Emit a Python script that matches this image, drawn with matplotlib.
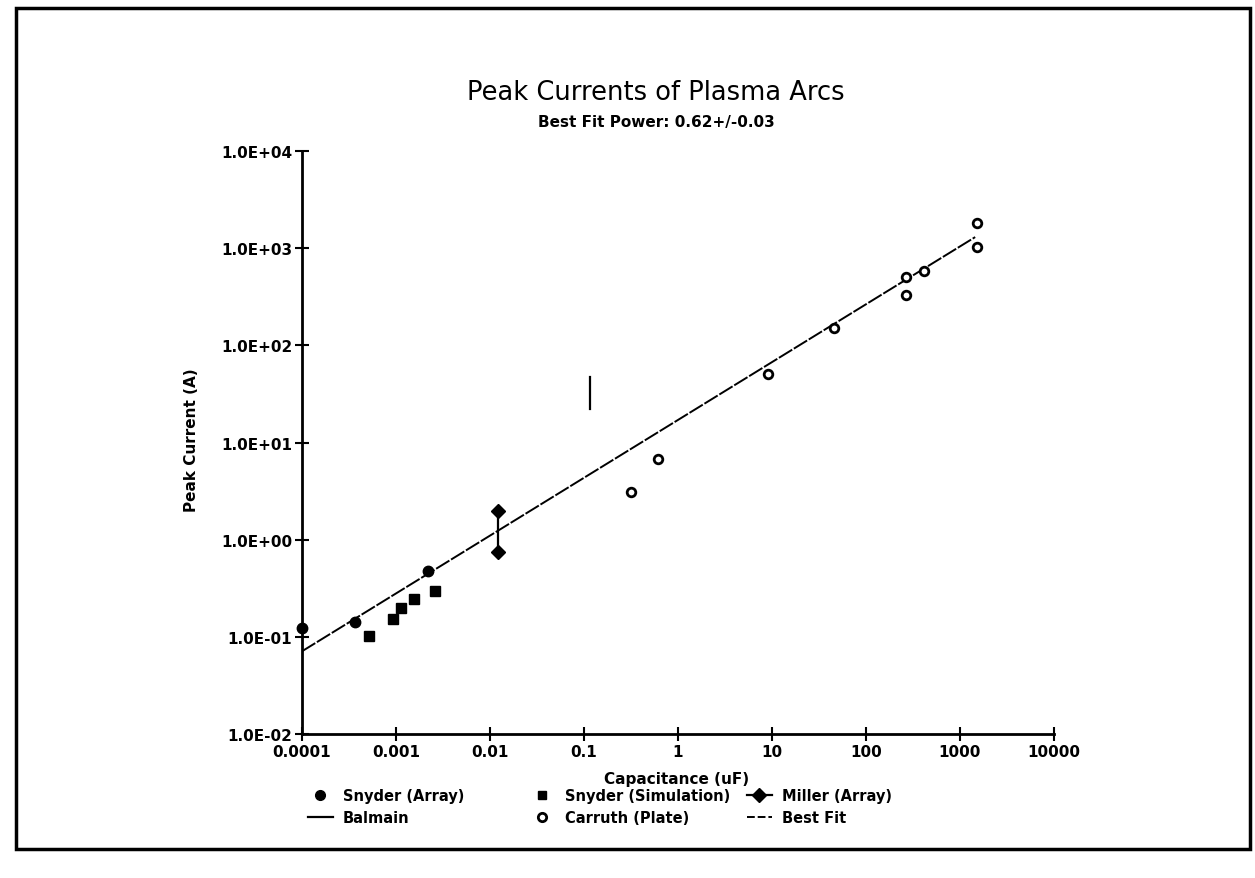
"""
Peak currents of plasma arcs vs capacitance, log-log with best fit line.
"""
import matplotlib
matplotlib.use('Agg')
import matplotlib.pyplot as plt
from matplotlib.lines import Line2D
from matplotlib.patches import Rectangle

# data
snyder_array_c = [0.0001, 0.00037, 0.00218]
snyder_array_i = [0.122, 0.143, 0.48]

snyder_sim_c = [0.00051, 0.00092, 0.00113, 0.00155, 0.0026]
snyder_sim_i = [0.103, 0.153, 0.20, 0.245, 0.298]

miller_c = [0.0122, 0.0122]
miller_i = [0.75, 1.98]

balmain_c = [0.115, 0.115]
balmain_i = [22.0, 47.0]

carruth_c = [0.32, 0.61, 9.0, 46.0, 265.0, 265.0, 415.0, 1520.0, 1520.0]
carruth_i = [3.1, 6.8, 51.0, 152.0, 330.0, 505.0, 580.0, 1820.0, 1040.0]

fit_c = [0.0001, 1450.0]
fit_i = [0.071, 1300.0]

x_ticks = [1e-4, 1e-3, 1e-2, 1e-1, 1, 10, 100, 1000, 10000]
x_labels = ['0.0001', '0.001', '0.01', '0.1', '1', '10', '100', '1000', '10000']
y_ticks = [1e-2, 1e-1, 1, 10, 100, 1000, 10000]
y_labels = ['1.0E-02', '1.0E-01', '1.0E+00', '1.0E+01', '1.0E+02', '1.0E+03', '1.0E+04']

W, H = 1255, 879
fig = plt.figure(figsize=(W / 100, H / 100), dpi=100)
ax = fig.add_axes([302 / W, 1 - 735 / H, (1054 - 302) / W, (735 - 152) / H])
ax.set_xscale('log')
ax.set_yscale('log')
ax.set_xlim(1e-4, 1e4)
ax.set_ylim(1e-2, 1e4)

ax.spines['top'].set_visible(False)
ax.spines['right'].set_visible(False)
ax.spines['left'].set_linewidth(2)
ax.spines['bottom'].set_linewidth(2)

ax.set_xticks(x_ticks)
ax.set_xticklabels(x_labels)
ax.set_yticks(y_ticks)
ax.set_yticklabels(y_labels)
ax.minorticks_off()
ax.tick_params(direction='inout', length=10, width=1.5, labelsize=11, pad=2)
for lab in ax.get_xticklabels() + ax.get_yticklabels():
    lab.set_fontweight('bold')

# data
ax.plot(fit_c, fit_i, color='black', lw=1.4, ls=(0, (8, 1)), zorder=2)
ax.plot(balmain_c, balmain_i, color='black', lw=1.6, zorder=2)
ax.plot(miller_c, miller_i, color='black', lw=1.6, marker='D', ms=7, zorder=3)
ax.plot(snyder_array_c, snyder_array_i, 'o', color='black', ms=7.5, clip_on=False, zorder=3)
ax.plot(snyder_sim_c, snyder_sim_i, 's', color='black', ms=6.5, zorder=3)
ax.plot(carruth_c, carruth_i, 'o', mfc='white', mec='black', mew=2, ms=6.2, zorder=3)

# titles and axis labels
fig.text(656 / W, 1 - 93 / H, 'Peak Currents of Plasma Arcs', fontsize=18.5,
         ha='center', va='center')
fig.text(656 / W, 1 - 122 / H, 'Best Fit Power: 0.62+/-0.03', fontsize=11,
         fontweight='bold', ha='center', va='center')
fig.text(677 / W, 1 - 780 / H, 'Capacitance (uF)', fontsize=11,
         fontweight='bold', ha='center', va='center')
fig.text(192 / W, 1 - 440 / H, 'Peak Current (A)', fontsize=11,
         fontweight='bold', ha='center', va='center', rotation=90)

# legend in three columns
h_sa = Line2D([], [], ls='none', marker='o', color='black', ms=7)
h_ba = Line2D([], [], color='black', lw=1.6)
h_ss = Line2D([], [], ls='none', marker='s', color='black', ms=6)
h_ca = Line2D([], [], ls='none', marker='o', mfc='white', mec='black', mew=2, ms=6)
h_mi = Line2D([], [], color='black', lw=1.6, marker='D', ms=7)
h_bf = Line2D([], [], color='black', lw=1.4, ls=(0, (4, 1.5)))

cols = [
    ([h_sa, h_ba], ['Snyder (Array)', 'Balmain'], 308),
    ([h_ss, h_ca], ['Snyder (Simulation)', 'Carruth (Plate)'], 530),
    ([h_mi, h_bf], ['Miller (Array)', 'Best Fit'], 747),
]
for handles, labels, x0 in cols:
    leg = fig.legend(handles, labels, loc='upper left',
                     bbox_to_anchor=(x0 / W, 1 - 789 / H),
                     frameon=False, borderpad=0, borderaxespad=0,
                     handlelength=1.7, handletextpad=0.7, labelspacing=0.5,
                     prop={'size': 10.5, 'weight': 'bold'})

# page border
fig.patches.append(Rectangle((16 / W, 1 - 850 / H), (1250 - 16) / W, (850 - 9) / H,
                             transform=fig.transFigure, fill=False, lw=2.5,
                             ec='black'))

fig.savefig('out.png', dpi=100)
